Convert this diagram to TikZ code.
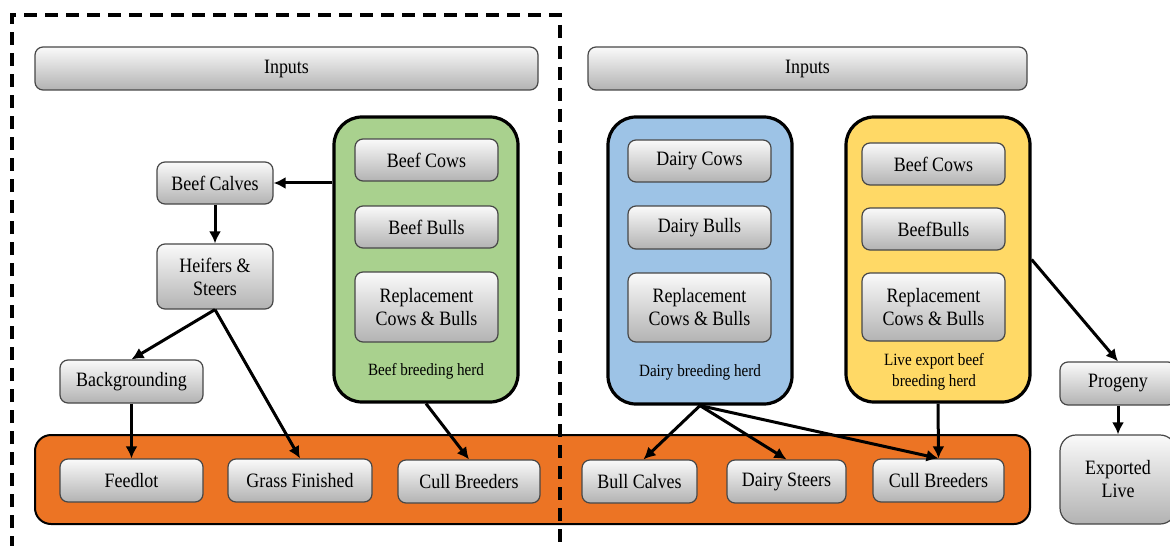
\documentclass[tikz,border=0pt]{standalone}
\usepackage{fontspec}
\setmainfont[FakeStretch=0.88]{Liberation Serif}
\usetikzlibrary{arrows.meta}
\definecolor{herdgreen}{HTML}{A9D18E}
\definecolor{herdblue}{HTML}{9DC3E6}
\definecolor{herdyellow}{HTML}{FFD966}
\definecolor{outorange}{HTML}{EC7424}
\begin{document}
\begin{tikzpicture}[x=0.5pt,y=-0.5pt,
  stepbox/.style={draw=black!72, line width=0.6pt, rounded corners=4pt,
    top color=gray!4, middle color=gray!14, bottom color=gray!60,
    align=center, inner sep=1pt, text=black,
    font=\rmfamily\fontsize{10.2}{11.5}\selectfont},
  herdbox/.style={draw=black, line width=1.6pt, rounded corners=14pt},
  herdlabel/.style={align=center, inner sep=0pt,
    font=\rmfamily\fontsize{8.6}{10.5}\selectfont},
  flow/.style={line width=1.5pt, -{Latex[length=6pt,width=6pt]}},
  frame/.style={line width=1.6pt, dash pattern=on 6.5pt off 4pt}]
\useasboundingbox (0,0) rectangle (1170,545);
\clip (0,0) rectangle (1170,545);

% input bars
\node[stepbox, minimum width=251.5pt, minimum height=21.5pt] (inL) at (286.5,68.5) {Inputs};
\node[stepbox, minimum width=219.5pt, minimum height=21.5pt] (inR) at (807.5,68.5) {Inputs};

% output band
\node[draw=black, line width=1pt, rounded corners=8pt, fill=outorange,
  minimum width=497.5pt, minimum height=44.5pt] (band) at (532.5,479.5) {};

% breeding herds
\node[herdbox, fill=herdgreen, minimum width=92pt, minimum height=142.5pt] (green) at (426,259.5) {};
\node[herdbox, fill=herdblue, minimum width=92pt, minimum height=143.5pt] (blue) at (700,260.5) {};
\node[herdbox, fill=herdyellow, minimum width=92pt, minimum height=142.5pt] (yellow) at (938,259.5) {};

% beef herd members
\node[stepbox, minimum width=71.5pt, minimum height=21pt] (bcows) at (426.5,160) {Beef Cows};
\node[stepbox, minimum width=71.5pt, minimum height=21pt] (bbulls) at (426.5,227) {Beef Bulls};
\node[stepbox, minimum width=71.5pt, minimum height=35pt] (brepl) at (426.5,307) {Replacement\\Cows \& Bulls};
\node[herdlabel] (blabel) at (426,371) {Beef breeding herd};

% dairy herd members
\node[stepbox, minimum width=71.5pt, minimum height=21pt] (dcows) at (699.5,161) {Dairy Cows};
\node[stepbox, minimum width=71.5pt, minimum height=21.5pt] (dbulls) at (699.5,227.5) {Dairy Bulls};
\node[stepbox, minimum width=71.5pt, minimum height=34.5pt] (drepl) at (699.5,307.5) {Replacement\\Cows \& Bulls};
\node[herdlabel] (dlabel) at (700,372) {Dairy breeding herd};

% live export herd members
\node[stepbox, minimum width=71.5pt, minimum height=21pt] (ecows) at (933.5,164) {Beef Cows};
\node[stepbox, minimum width=71.5pt, minimum height=21pt] (ebulls) at (933.5,229) {BeefBulls};
\node[stepbox, minimum width=71.5pt, minimum height=34pt] (erepl) at (933.5,307) {Replacement\\Cows \& Bulls};
\node[herdlabel] (elabel) at (934,372) {Live export beef\\breeding herd};

% beef progeny path
\node[stepbox, minimum width=58pt, minimum height=21pt] (calves) at (215,183) {Beef Calves};
\node[stepbox, minimum width=58pt, minimum height=32.5pt] (heifers) at (215,276.5) {Heifers \&\\Steers};
\node[stepbox, minimum width=71.5pt, minimum height=21.5pt] (backg) at (131.5,381.5) {Backgrounding};

% outputs
\node[stepbox, minimum width=71.5pt, minimum height=21.5pt] (feedlot) at (131.5,480.5) {Feedlot};
\node[stepbox, minimum width=72pt, minimum height=21.5pt] (grass) at (300,480.5) {Grass Finished};
\node[stepbox, minimum width=71pt, minimum height=21.5pt] (cullA) at (469,481.5) {Cull Breeders};
\node[stepbox, minimum width=57.5pt, minimum height=21.5pt] (bullc) at (639.5,481.5) {Bull Calves};
\node[stepbox, minimum width=59.5pt, minimum height=21.5pt] (dsteers) at (786.5,481.5) {Dairy Steers};
\node[stepbox, minimum width=65.5pt, minimum height=21.5pt] (cullB) at (938.5,480.5) {Cull Breeders};

% live export
\node[stepbox, minimum width=58pt, minimum height=21.5pt] (progeny) at (1118,383.5) {Progeny};
\node[stepbox, rounded corners=8pt, minimum width=58pt, minimum height=44.5pt] (export) at (1118,479.5) {Exported\\Live};

% connectors
\draw[flow] (green.west |- calves.east) -- (calves.east);
\draw[flow] (calves.south) -- (heifers.north);
\draw[flow] (heifers.south) -- (backg.north);
\draw[flow] (heifers.south) -- (grass.north);
\draw[flow] (backg.south) -- (feedlot.north);
\draw[flow] (green.south) -- (cullA.north);
\draw[flow] (blue.south) -- ([xshift=2pt]bullc.north);
\draw[flow] (blue.south) -- (dsteers.north);
\draw[flow] (blue.south) -- (cullB.north);
\draw[flow] (yellow.south) -- (cullB.north);
\draw[flow] (yellow.east) -- (progeny.north);
\draw[flow] (progeny.south) -- (export.north);

% dashed boundary of the beef sector
\draw[frame] (12,570) -- (12,15) -- (560,15) -- (560,570);
\end{tikzpicture}
\end{document}
